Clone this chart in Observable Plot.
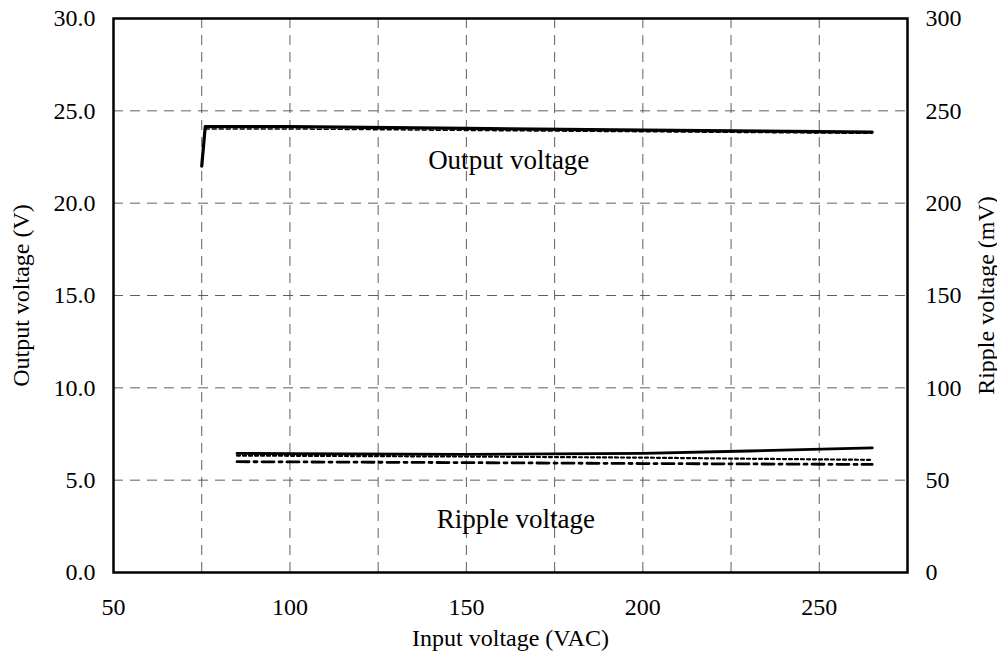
<!DOCTYPE html>
<html><head><meta charset="utf-8">
<script src="https://cdn.jsdelivr.net/npm/d3@7"></script>
<script src="https://cdn.jsdelivr.net/npm/@observablehq/plot@0.6"></script>
<style>body{margin:0;background:#fff} svg{font-family:"Liberation Serif",serif}</style>
</head><body><div id="chart"></div>
<script>
// Output voltage (V) vs input voltage (VAC)
const outputSolidVin = [75, 76, 100, 150, 200, 265];
const outputSolidV   = [22.0, 24.15, 24.15, 24.05, 23.95, 23.85];
const outputDashVin  = [76, 100, 150, 200, 265];
const outputDashV    = [24.02, 24.02, 23.94, 23.87, 23.78];
// Ripple voltage (mV) vs input voltage (VAC)
const rippleVin      = [85, 100, 150, 200, 230, 265];
const rippleSolid    = [64.5, 64.3, 64.0, 64.5, 65.8, 67.5];
const rippleDotted   = [63.3, 63.2, 62.8, 62.2, 61.6, 61.0];
const rippleDashDot  = [60.0, 59.9, 59.5, 59.0, 58.8, 58.5];
// axes
const xTicks = [50, 100, 150, 200, 250];
const xGrid  = [75, 100, 125, 150, 175, 200, 225, 250];
const yTicks = [0, 5, 10, 15, 20, 25, 30];
const yGrid  = [5, 10, 15, 20, 25];
const rippleTickLabels = ["0", "50", "100", "150", "200", "250", "300"];
const annotations = [
  {text: "Output voltage", x: 162, y: 22.3},
  {text: "Ripple voltage", x: 164, y: 2.9}
];

const outSolid = outputSolidVin.map((x, i) => ({x, y: outputSolidV[i]}));
const outDash  = outputDashVin.map((x, i) => ({x, y: outputDashV[i]}));
const rip = (arr) => rippleVin.map((x, i) => ({x, mv: arr[i]}));

const gridStyle = {stroke: "#444", strokeOpacity: 0.85, strokeWidth: 1, strokeDasharray: "10,7"};

const chart = Plot.plot({
  width: 997, height: 656,
  marginLeft: 113, marginRight: 90, marginTop: 18, marginBottom: 84,
  style: {fontFamily: "Liberation Serif, serif", fontSize: "24px", color: "black", background: "white"},
  x: {domain: [50, 275]},
  y: {domain: [0, 30]},
  marks: [
    Plot.gridX(xGrid, gridStyle),
    Plot.gridY(yGrid, gridStyle),
    Plot.axisX(xTicks, {tickSize: 0, tickPadding: 25,
      label: "Input voltage (VAC)", labelAnchor: "center", labelOffset: 73, labelArrow: false}),
    Plot.axisY(yTicks, {anchor: "left", tickSize: 0, tickPadding: 18,
      tickFormat: d3.format(".1f"),
      label: "Output voltage (V)", labelAnchor: "center", labelOffset: 102, labelArrow: false}),
    Plot.axisY(yTicks, {anchor: "right", tickSize: 0, tickPadding: 18,
      tickFormat: (d, i) => rippleTickLabels[i],
      label: "Ripple voltage (mV)", labelAnchor: "center", labelOffset: 86, labelArrow: false}),
    Plot.line(outDash, {x: "x", y: "y", stroke: "black", strokeWidth: 1.5, strokeDasharray: "4,3"}),
    Plot.line(outSolid, {x: "x", y: "y", stroke: "black", strokeWidth: 3.2}),
    Plot.line(rip(rippleDashDot), {x: "x", y: d => d.mv / 10, stroke: "black", strokeWidth: 2.8, strokeDasharray: "12,5,3,5"}),
    Plot.line(rip(rippleDotted), {x: "x", y: d => d.mv / 10, stroke: "black", strokeWidth: 2.2, strokeDasharray: "3,3"}),
    Plot.line(rip(rippleSolid), {x: "x", y: d => d.mv / 10, stroke: "black", strokeWidth: 2.8}),
    Plot.text(annotations, {x: "x", y: "y", text: "text", fill: "black"}),
    Plot.frame({stroke: "black", strokeWidth: 2.5})
  ]
});
// font sizes
d3.select(chart).selectAll("g[aria-label$='tick label']").attr("font-size", 24);
d3.select(chart).selectAll("g[aria-label='x-axis label'], g[aria-label='y-axis label']").attr("font-size", 24);
d3.select(chart).selectAll("g[aria-label='text']").attr("font-size", 27);
document.getElementById("chart").appendChild(chart);
</script>
</body></html>
